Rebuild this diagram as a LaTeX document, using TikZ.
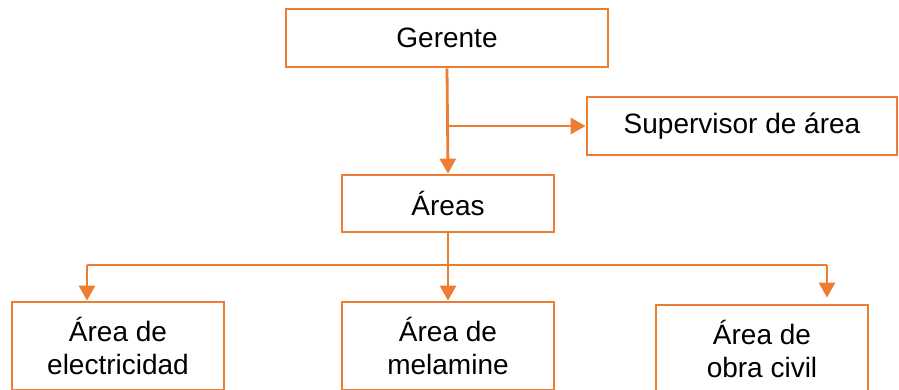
\documentclass[tikz,border=0pt]{standalone}
\usepackage{fontspec}
\setmainfont{Liberation Sans}
\usepackage{xcolor}
\usetikzlibrary{positioning, arrows.meta}
\definecolor{naranja}{HTML}{ED7D31}

\begin{document}
\begin{tikzpicture}[x=1pt,y=-1pt,>={Triangle[width=16pt,length=15pt]},
    caja/.style={draw=naranja, line width=2.8pt, align=center, inner sep=0pt,
        font=\fontsize{28}{33}\selectfont},
    linea/.style={draw=naranja, line width=2.8pt},
    fina/.style={draw=naranja, line width=1.5pt}]
        \useasboundingbox (0,0) rectangle (899,389);
        \clip (0,0) rectangle (899,389);

        % Nodes
        \node (ger) [caja, minimum width=322pt, minimum height=58pt] at (447,38) {Gerente};
        \node (sup) [caja, minimum width=310pt, minimum height=58pt] at (742,126) {Supervisor de área};
        \node (are) [caja, minimum width=212pt, minimum height=57pt] at (448,203.5) {Áreas};
        \node (ael) [caja, minimum width=212pt, minimum height=88pt] at (118,346) {Área de\\electricidad};
        \node (ame) [caja, minimum width=212pt, minimum height=88pt] at (448,346) {Área de\\melamine};
        \node (aoc) [caja, minimum width=212pt, minimum height=88pt] at (762,349) {Área de\\obra civil};

        % Bus
        \coordinate (bizq) at (87,265);
        \coordinate (bder) at (827,265);

        % Arrows
        \draw[linea, ->] (ger.south) -- (are.north);
        \draw[linea, ->] (ger.south |- sup.west) -- (sup.west);
        \draw[fina] (are.south) -- (are.south |- bizq);
        \draw[fina] (bizq) -- (bder);
        \draw[linea, ->] (bizq) -- (bizq |- ael.north);
        \draw[linea, ->] (are.south |- bizq) -- (ame.north);
        \draw[linea, ->] (bder) -- ([yshift=6pt]bder |- aoc.north);

    \end{tikzpicture}
\end{document}
